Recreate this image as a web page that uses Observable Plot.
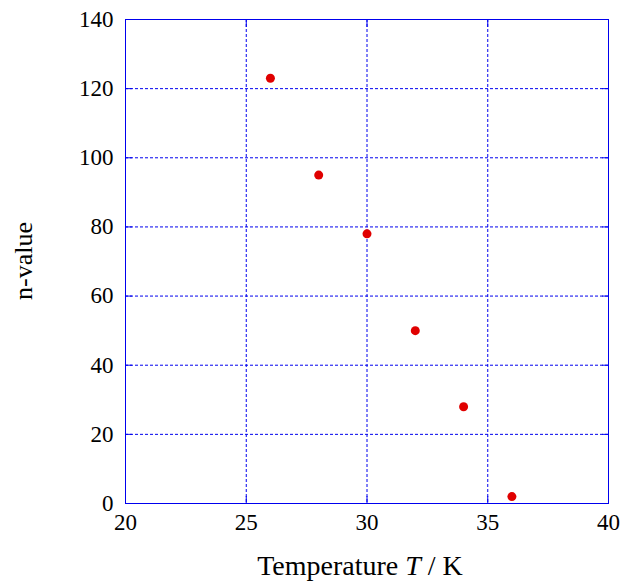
<!DOCTYPE html>
<html>
<head>
<meta charset="utf-8">
<script src="https://cdn.jsdelivr.net/npm/d3@7"></script>
<script src="https://cdn.jsdelivr.net/npm/@observablehq/plot@0.6"></script>
<style>
  body { margin: 0; background: white; }
  svg text { font-family: "Liberation Serif", "Times New Roman", serif !important; }
</style>
</head>
<body>
<div id="chart"></div>
<script>
const temperatures = [26, 28, 30, 32, 34, 36];
const nValues = [123, 95, 78, 50, 28, 2];
const xTicks = [20, 25, 30, 35, 40];
const yTicks = [0, 20, 40, 60, 80, 100, 120, 140];
const xLabelMain = "Temperature ";
const xLabelItalic = "T";
const xLabelTail = " / K";
const yLabel = "n-value";

const data = temperatures.map((t, i) => ({t, n: nValues[i]}));
const gridColor = "#0000ee";
const serif = "Liberation Serif, Times New Roman, serif";

const chart = Plot.plot({
  width: 623,
  height: 584,
  marginLeft: 125,
  marginRight: 15,
  marginTop: 19,
  marginBottom: 81,
  style: {fontFamily: serif, fontSize: "23px", color: "black", background: "white"},
  x: {domain: [20, 40], label: null},
  y: {domain: [0, 140], label: null},
  marks: [
    Plot.gridX(xTicks, {stroke: gridColor, strokeOpacity: 1, strokeDasharray: "3,2", strokeWidth: 1}),
    Plot.gridY(yTicks, {stroke: gridColor, strokeOpacity: 1, strokeDasharray: "3,2", strokeWidth: 1}),
    Plot.axisX(xTicks, {anchor: "bottom", tickSize: -7, stroke: gridColor, tickFormat: () => ""}),
    Plot.axisX(xTicks, {anchor: "top", tickSize: -7, stroke: gridColor, tickFormat: () => ""}),
    Plot.axisY(yTicks, {anchor: "left", tickSize: -7, stroke: gridColor, tickFormat: () => ""}),
    Plot.axisY(yTicks, {anchor: "right", tickSize: -7, stroke: gridColor, tickFormat: () => ""}),
    Plot.axisX(xTicks, {anchor: "bottom", tickSize: 0, tickPadding: 10, fontSize: 23, fontFamily: serif, fill: "black"}),
    Plot.axisY(yTicks, {anchor: "left", tickSize: 0, tickPadding: 12, fontSize: 23, fontFamily: serif, fill: "black"}),
    Plot.frame({stroke: gridColor, strokeWidth: 1}),
    Plot.dot(data, {x: "t", y: "n", r: 4.5, fill: "#e00000", stroke: "none"})
  ]
});

const svg = d3.select(chart);
const xl = svg.append("text")
  .attr("x", 360).attr("y", 575)
  .attr("text-anchor", "middle")
  .attr("font-size", 28)
  .attr("fill", "black");
xl.append("tspan").text(xLabelMain);
xl.append("tspan").attr("font-style", "italic").text(xLabelItalic);
xl.append("tspan").text(xLabelTail);

svg.append("text")
  .attr("transform", "translate(32,261) rotate(-90)")
  .attr("text-anchor", "middle")
  .attr("font-size", 26)
  .attr("fill", "black")
  .text(yLabel);

document.getElementById("chart").appendChild(chart);
</script>
</body>
</html>
